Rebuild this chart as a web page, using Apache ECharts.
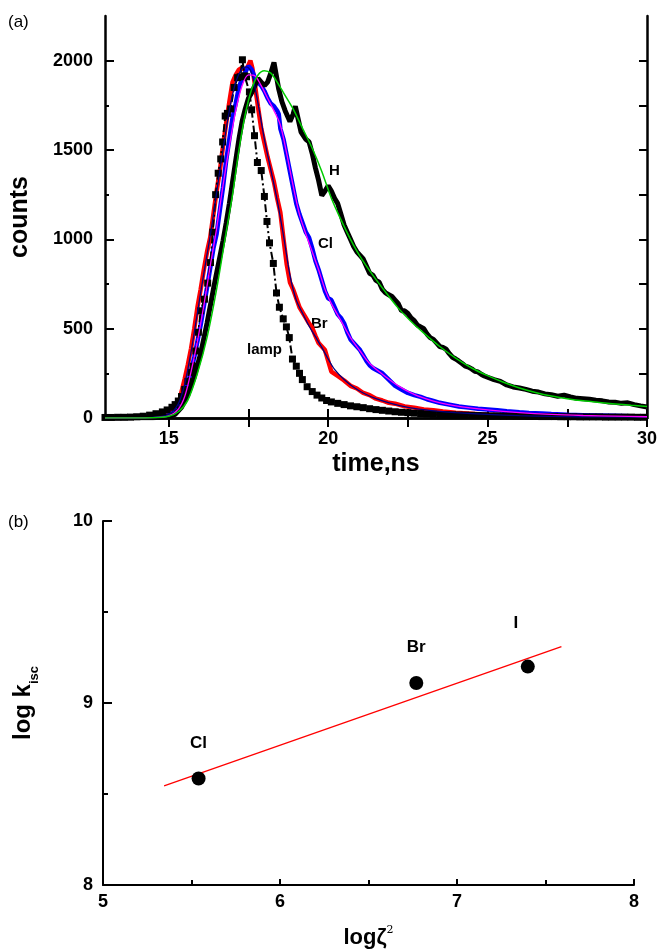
<!DOCTYPE html>
<html><head><meta charset="utf-8">
<script src="https://cdn.jsdelivr.net/npm/echarts@6/dist/echarts.min.js"></script>
<style>html,body{margin:0;padding:0;background:#fff}#c{width:660px;height:950px}</style>
</head><body><div id="c"></div>
<script>
// ---------- Panel (a): fluorescence decays, [time ns, counts] ----------
const lampCounts = [[13.0,3],[13.2,3],[13.4,4],[13.6,4],[13.8,5],[14.0,7],[14.2,10],[14.4,16],[14.6,24],[14.8,34],[14.95,45],[15.1,60],[15.2,75],[15.3,95],[15.4,120],[15.5,160],[15.6,205],[15.7,255],[15.77,290],[15.85,375],[15.93,480],[16.0,600],[16.12,665],[16.22,755],[16.31,870],[16.38,1040],[16.47,1250],[16.55,1370],[16.63,1450],[16.69,1545],[16.77,1690],[16.84,1705],[16.94,1730],[17.05,1850],[17.16,1905],[17.24,1910],[17.31,2005],[17.38,1915],[17.44,1910],[17.53,1825],[17.6,1725],[17.69,1580],[17.78,1430],[17.9,1385],[18.0,1240],[18.08,1100],[18.16,980],[18.28,865],[18.38,700],[18.47,620],[18.59,555],[18.69,510],[18.78,450],[18.88,330],[19.0,290],[19.1,250],[19.19,215],[19.34,175],[19.5,148],[19.65,128],[19.8,112],[19.95,98],[20.1,90],[20.3,82],[20.5,75],[20.7,68],[20.9,63],[21.1,58],[21.3,52],[21.5,47],[21.7,43],[21.9,39],[22.1,35],[22.3,32],[22.5,30],[22.7,27],[22.9,25],[23.1,23],[23.3,21],[23.5,20],[23.7,19],[23.9,18],[24.1,17],[24.3,16],[24.5,15],[24.7,14],[24.9,13],[25.1,12],[25.3,12],[25.5,11],[25.7,11],[25.9,10],[26.1,10],[26.3,9],[26.5,9],[26.7,8],[26.9,8],[27.1,8],[27.3,7],[27.5,7],[27.7,7],[27.9,6],[28.1,6],[28.3,6],[28.5,6],[28.7,5],[28.9,5],[29.1,5],[29.3,5],[29.5,5],[29.7,4],[29.9,4]];

const brCounts = [[13.0,0],[13.5,0],[14.0,2],[14.5,4],[14.8,8],[15.0,18],[15.2,50],[15.35,110],[15.5,220],[15.6,300],[15.7,390],[15.8,500],[15.9,620],[16.0,720],[16.1,830],[16.2,930],[16.3,1010],[16.4,1140],[16.5,1270],[16.6,1380],[16.7,1520],[16.8,1650],[16.9,1770],[17.0,1880],[17.1,1920],[17.2,1950],[17.3,1960],[17.4,1945],[17.5,1975],[17.56,2000],[17.62,1960],[17.7,1870],[17.8,1740],[17.9,1620],[18.0,1540],[18.1,1460],[18.2,1390],[18.3,1320],[18.4,1230],[18.5,1150],[18.6,1000],[18.7,860],[18.8,760],[18.9,720],[19.0,670],[19.1,620],[19.2,590],[19.3,560],[19.4,530],[19.5,505],[19.6,460],[19.7,420],[19.8,400],[19.9,380],[20.0,320],[20.1,260],[20.3,235],[20.5,210],[20.7,180],[20.9,165],[21.1,140],[21.3,128],[21.5,108],[21.7,98],[21.9,85],[22.1,80],[22.4,65],[22.7,58],[23.0,48],[23.3,44],[23.6,36],[24.0,30],[24.5,24],[25.0,18],[25.5,15],[26.0,12],[27.0,9],[28.0,7],[29.0,6],[30.0,5]];
const brFit = [[13.0,0],[14.5,3],[15.0,20],[15.3,80],[15.5,190],[15.7,370],[15.9,590],[16.1,810],[16.3,1020],[16.5,1260],[16.7,1500],[16.9,1720],[17.1,1880],[17.3,1955],[17.45,1965],[17.6,1930],[17.8,1760],[18.0,1560],[18.2,1390],[18.4,1220],[18.6,1020],[18.8,800],[19.0,660],[19.2,585],[19.4,515],[19.6,455],[19.8,395],[20.0,330],[20.2,272],[20.5,215],[20.8,172],[21.1,140],[21.5,108],[22.0,80],[22.5,60],[23.0,47],[23.5,37],[24.0,30],[25.0,20],[26.0,13],[27.0,9],[28.0,7],[30.0,5]];

const clCounts = [[13.0,0],[14.0,1],[14.5,3],[15.0,14],[15.2,35],[15.4,90],[15.6,190],[15.8,340],[16.0,520],[16.2,730],[16.4,950],[16.5,1030],[16.6,1160],[16.7,1290],[16.8,1440],[16.9,1560],[17.0,1680],[17.1,1760],[17.2,1850],[17.3,1900],[17.4,1935],[17.5,1970],[17.6,1950],[17.7,1905],[17.8,1880],[17.9,1860],[18.0,1830],[18.1,1790],[18.2,1760],[18.3,1745],[18.4,1720],[18.45,1700],[18.5,1620],[18.6,1560],[18.7,1470],[18.8,1380],[18.9,1290],[19.0,1200],[19.1,1140],[19.2,1090],[19.3,1040],[19.4,1010],[19.5,950],[19.6,880],[19.7,830],[19.8,770],[19.9,710],[20.0,670],[20.1,660],[20.2,620],[20.3,580],[20.4,560],[20.5,530],[20.6,480],[20.7,440],[20.8,420],[20.9,400],[21.0,380],[21.1,350],[21.2,320],[21.3,295],[21.4,280],[21.5,270],[21.6,260],[21.7,250],[21.9,215],[22.1,180],[22.3,160],[22.5,140],[22.7,128],[22.9,118],[23.1,105],[23.3,95],[23.5,85],[23.8,75],[24.1,64],[24.4,58],[24.7,52],[25.0,48],[25.3,44],[25.6,38],[26.0,32],[26.3,28],[26.7,25],[27.0,22],[27.5,18],[28.0,16],[28.5,14],[29.0,12],[29.5,10],[30.0,9]];
const clFit = [[13.0,0],[14.5,2],[15.0,12],[15.3,50],[15.5,120],[15.7,260],[15.9,430],[16.1,630],[16.3,850],[16.5,1060],[16.7,1300],[16.9,1520],[17.1,1720],[17.3,1860],[17.5,1920],[17.7,1915],[17.9,1860],[18.1,1790],[18.3,1720],[18.5,1640],[18.7,1480],[18.9,1300],[19.1,1140],[19.3,1030],[19.5,930],[19.7,830],[19.9,720],[20.1,640],[20.4,545],[20.7,450],[21.0,375],[21.3,305],[21.7,245],[22.2,180],[22.7,132],[23.2,100],[23.7,78],[24.2,62],[25.0,45],[26.0,30],[27.0,20],[28.0,14],[29.0,10],[30.0,7]];

const hCounts = [[13.0,0],[14.0,1],[14.5,2],[15.0,8],[15.2,20],[15.4,60],[15.6,130],[15.8,230],[16.0,360],[16.2,530],[16.4,720],[16.6,900],[16.7,990],[16.8,1090],[16.9,1200],[17.0,1320],[17.1,1440],[17.2,1560],[17.3,1660],[17.4,1730],[17.5,1790],[17.6,1820],[17.7,1860],[17.8,1900],[17.9,1880],[18.0,1860],[18.1,1880],[18.2,1930],[18.3,1990],[18.35,2000],[18.45,1840],[18.55,1770],[18.65,1720],[18.8,1660],[18.9,1700],[18.97,1745],[19.05,1680],[19.15,1600],[19.3,1560],[19.4,1545],[19.5,1480],[19.6,1400],[19.7,1330],[19.8,1245],[19.9,1270],[20.0,1300],[20.1,1270],[20.2,1230],[20.3,1200],[20.4,1140],[20.5,1080],[20.6,1040],[20.7,1000],[20.8,960],[20.9,930],[21.0,910],[21.1,890],[21.2,850],[21.3,810],[21.4,800],[21.5,770],[21.6,760],[21.7,720],[21.8,700],[21.9,690],[22.0,680],[22.1,660],[22.2,640],[22.3,600],[22.4,600],[22.5,585],[22.6,560],[22.7,545],[22.8,520],[22.9,510],[23.0,500],[23.1,470],[23.2,450],[23.3,440],[23.4,420],[23.5,400],[23.6,395],[23.7,385],[23.8,360],[23.9,340],[24.0,330],[24.1,318],[24.2,305],[24.3,290],[24.4,285],[24.5,275],[24.6,262],[24.7,258],[24.8,245],[24.9,235],[25.0,228],[25.2,215],[25.4,205],[25.6,185],[25.8,174],[26.0,168],[26.2,160],[26.4,150],[26.6,145],[26.8,135],[27.0,130],[27.2,122],[27.4,128],[27.6,118],[27.8,110],[28.0,108],[28.2,105],[28.4,100],[28.6,96],[28.8,90],[29.0,88],[29.2,82],[29.4,85],[29.6,75],[29.8,68],[30.0,62]];
const hFit = [[13.0,0],[14.5,2],[15.0,10],[15.3,35],[15.6,100],[15.9,250],[16.2,450],[16.5,720],[16.8,1040],[17.0,1250],[17.2,1500],[17.4,1700],[17.6,1840],[17.8,1920],[18.0,1944],[18.2,1930],[18.4,1880],[18.6,1820],[18.9,1730],[19.2,1620],[19.5,1510],[19.8,1380],[20.1,1230],[20.4,1110],[20.7,1000],[21.0,905],[21.4,800],[21.8,705],[22.2,615],[22.6,540],[23.0,475],[23.5,400],[24.0,335],[24.5,280],[25.0,237],[25.5,200],[26.0,168],[26.5,143],[27.0,123],[27.5,108],[28.0,96],[28.5,87],[29.0,79],[29.5,71],[30.0,64]];

const timeTicks = [15, 17.5, 20, 22.5, 25, 27.5, 30];
const timeLabels = [15, 20, 25, 30];
const countLabels = [0, 500, 1000, 1500, 2000];
const countMinor = [250, 750, 1250, 1750];
const countAllTicks = [0, 250, 500, 750, 1000, 1250, 1500, 1750, 2000];

// ---------- Panel (b): log k_isc vs log zeta^2 ----------
const halogens = ['Cl', 'Br', 'I'];
const logZeta2 = [5.54, 6.77, 7.40];
const logKisc = [8.585, 9.11, 9.20];
const fitX = [5.345, 7.59];
const fitY = [8.545, 9.31];

const F = '"Liberation Sans", Arial, sans-serif';
const chart = echarts.init(document.getElementById('c'), null, {renderer: 'canvas'});

const boxLine = {show: true, lineStyle: {color: '#000', width: 2.5}};
const tickStyle = {color: '#000', width: 2};
const lblStyle = {color: '#000', fontFamily: F, fontWeight: 'bold', fontSize: 18, formatter: v => String(v)};

const option = {
  animation: false,
  backgroundColor: '#fff',
  grid: [
    {left: 104, top: 16, width: 544, height: 402},
    {left: 103, top: 521, width: 531, height: 366}
  ],
  xAxis: [
    {gridIndex: 0, type: 'value', min: 13, max: 30, position: 'bottom',
     axisLine: boxLine,
     axisTick: {inside: true, length: 9, customValues: timeTicks, lineStyle: tickStyle},
     axisLabel: Object.assign({customValues: timeLabels, margin: 12}, lblStyle),
     splitLine: {show: false},
     name: 'time,ns', nameLocation: 'middle', nameGap: 34,
     nameTextStyle: {color: '#000', fontFamily: F, fontWeight: 'bold', fontSize: 25}},
    {gridIndex: 0, type: 'value', min: 13, max: 30, position: 'top',
     axisLine: boxLine,
     axisTick: {inside: true, length: 9, customValues: timeTicks, lineStyle: tickStyle},
     axisLabel: {show: false}, splitLine: {show: false}},
    {gridIndex: 1, type: 'value', min: 5, max: 8, interval: 1,
     axisLine: {show: true, lineStyle: {color: '#000', width: 2}},
     axisTick: {inside: true, length: 6, lineStyle: tickStyle},
     minorTick: {show: true, splitNumber: 2, length: 5, lineStyle: tickStyle},
     axisLabel: Object.assign({margin: 8}, lblStyle),
     splitLine: {show: false},
     name: '{b|log\u03b6}{sup|2}', nameLocation: 'middle', nameGap: 40,
     nameTextStyle: {rich: {
       b: {fontFamily: F, fontWeight: 'bold', fontSize: 22, color: '#000', lineHeight: 26},
       sup: {fontFamily: '"DejaVu Serif", serif', fontSize: 11, color: '#000', lineHeight: 26, verticalAlign: 'top'}
     }}}
  ],
  yAxis: [
    {gridIndex: 0, type: 'value', min: 0, max: 2250, position: 'left',
     axisLine: boxLine,
     axisTick: {inside: true, length: 9, customValues: countLabels, lineStyle: tickStyle},
     axisLabel: Object.assign({customValues: countLabels, margin: 12}, lblStyle),
     splitLine: {show: false},
     name: 'counts', nameLocation: 'middle', nameGap: 72,
     nameTextStyle: {color: '#000', fontFamily: F, fontWeight: 'bold', fontSize: 25}},
    {gridIndex: 0, type: 'value', min: 0, max: 2250, position: 'left',
     axisLine: {show: false},
     axisTick: {show: true, inside: true, length: 4, customValues: countMinor, lineStyle: tickStyle},
     axisLabel: {show: false}, splitLine: {show: false}},
    {gridIndex: 0, type: 'value', min: 0, max: 2250, position: 'right',
     axisLine: boxLine,
     axisTick: {show: true, inside: true, length: 8, customValues: countAllTicks, lineStyle: tickStyle},
     axisLabel: {show: false}, splitLine: {show: false}},
    {gridIndex: 1, type: 'value', min: 8, max: 10, interval: 1,
     axisLine: {show: true, lineStyle: {color: '#000', width: 2}},
     axisTick: {inside: true, length: 9, lineStyle: tickStyle},
     minorTick: {show: true, splitNumber: 2, length: 5, lineStyle: tickStyle},
     axisLabel: Object.assign({margin: 10}, lblStyle),
     splitLine: {show: false},
     name: '{b|log k}{sub|isc}', nameLocation: 'middle', nameGap: 62,
     nameTextStyle: {rich: {
       b: {fontFamily: F, fontWeight: 'bold', fontSize: 24, color: '#000', lineHeight: 28, verticalAlign: 'middle'},
       sub: {fontFamily: F, fontWeight: 'bold', fontSize: 13, color: '#000', lineHeight: 36, verticalAlign: 'bottom'}
     }}}
  ],
  series: [
    {type: 'line', xAxisIndex: 0, yAxisIndex: 0, data: brCounts, showSymbol: false,
     lineStyle: {color: '#ff0000', width: 4.5}, z: 2},
    {type: 'line', xAxisIndex: 0, yAxisIndex: 0, data: clCounts, showSymbol: false,
     lineStyle: {color: '#0000ff', width: 4.5}, z: 2},
    {type: 'line', xAxisIndex: 0, yAxisIndex: 0, data: hCounts, showSymbol: false,
     lineStyle: {color: '#000000', width: 5}, z: 2},
    {type: 'line', xAxisIndex: 0, yAxisIndex: 0, data: lampCounts, symbol: 'rect', symbolSize: 7,
     itemStyle: {color: '#000'}, lineStyle: {color: '#000', width: 2, type: [8, 3, 2, 3]}, z: 3},
    {type: 'line', xAxisIndex: 0, yAxisIndex: 0, data: brFit, showSymbol: false, smooth: 0.3,
     lineStyle: {color: '#000080', width: 1.3}, z: 4},
    {type: 'line', xAxisIndex: 0, yAxisIndex: 0, data: clFit, showSymbol: false, smooth: 0.3,
     lineStyle: {color: '#ff00ff', width: 1.3}, z: 4},
    {type: 'line', xAxisIndex: 0, yAxisIndex: 0, data: hFit, showSymbol: false, smooth: 0.3,
     lineStyle: {color: '#00cc00', width: 1.5}, z: 4},
    {type: 'line', xAxisIndex: 2, yAxisIndex: 3, data: fitX.map((x, i) => [x, fitY[i]]),
     showSymbol: false, lineStyle: {color: '#ff0000', width: 1.3}, z: 2},
    {type: 'scatter', xAxisIndex: 2, yAxisIndex: 3, symbolSize: 14, itemStyle: {color: '#000', opacity: 1}, z: 3,
     data: logZeta2.map((x, i) => ({value: [x, logKisc[i]], name: halogens[i],
       label: i === 2 ? {offset: [-12, -8]} : {}})),
     label: {show: true, position: 'top', distance: 20, formatter: p => p.name, opacity: 1,
       color: '#000', fontFamily: F, fontWeight: 'bold', fontSize: 17}}
  ],
  graphic: [
    {type: 'text', left: 8, top: 14, style: {text: '(a)', font: '17px ' + F, fill: '#000'}},
    {type: 'text', left: 8, top: 514, style: {text: '(b)', font: '17px ' + F, fill: '#000'}},
    {type: 'text', left: 329, top: 163, style: {text: 'H', font: 'bold 15px ' + F, fill: '#000'}},
    {type: 'text', left: 318, top: 236, style: {text: 'Cl', font: 'bold 15px ' + F, fill: '#000'}},
    {type: 'text', left: 311, top: 316, style: {text: 'Br', font: 'bold 15px ' + F, fill: '#000'}},
    {type: 'text', left: 247, top: 342, style: {text: 'lamp', font: 'bold 15px ' + F, fill: '#000'}}
  ]
};
chart.setOption(option);
</script>
</body></html>
